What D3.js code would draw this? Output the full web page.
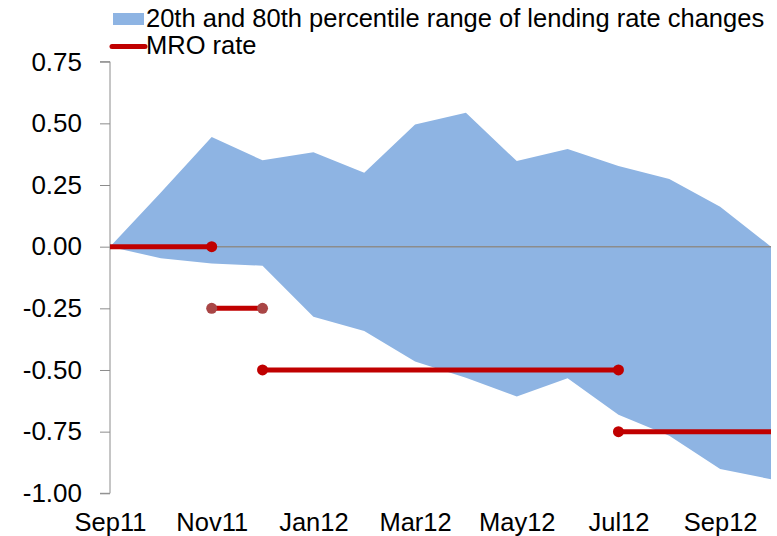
<!DOCTYPE html>
<html>
<head>
<meta charset="utf-8">
<script src="https://cdn.jsdelivr.net/npm/d3@7"></script>
<style>
  html, body { margin: 0; padding: 0; background: #fff; }
  svg { display: block; font-family: "Liberation Sans", Arial, sans-serif; }
</style>
</head>
<body>
<svg id="chart" width="777" height="536"></svg>
<script>
// ---- data ----
const months = ["Sep11","Oct11","Nov11","Dec11","Jan12","Feb12","Mar12","Apr12","May12","Jun12","Jul12","Aug12","Sep12","Oct12"];
const upper80 = [0.00, 0.22, 0.445, 0.35, 0.383, 0.30, 0.495, 0.543, 0.347, 0.396, 0.327, 0.274, 0.162, 0.00];
const lower20 = [0.00, -0.047, -0.068, -0.077, -0.284, -0.342, -0.466, -0.531, -0.608, -0.534, -0.682, -0.767, -0.901, -0.943];
const mroStart = ["Sep11","Nov11","Dec11","Jul12"];
const mroEnd   = ["Nov11","Dec11","Jul12","Oct12"];
const mroValue = [0.00, -0.25, -0.50, -0.75];
const mroStartMarker = [false, true, true, true];
const mroEndMarker   = [true, true, true, false];
const yTicks = [0.75, 0.50, 0.25, 0.00, -0.25, -0.50, -0.75, -1.00];
const xTickLabels = ["Sep11","Nov11","Jan12","Mar12","May12","Jul12","Sep12"];
const legendLabels = ["20th and 80th percentile range of lending rate changes", "MRO rate"];

// ---- chart ----
const svg = d3.select("#chart");
const x = d3.scalePoint().domain(months).range([110, 771]);
const y = d3.scaleLinear().domain([-1, 0.75]).range([493.3, 61.7]);

const areaData = months.map((m, i) => ({ m, hi: upper80[i], lo: lower20[i] }));
const area = d3.area().x(d => x(d.m)).y0(d => y(d.lo)).y1(d => y(d.hi));
svg.append("path").datum(areaData).attr("d", area).attr("fill", "#8EB4E3");

// zero line (category axis)
svg.append("line")
  .attr("x1", x(months[0])).attr("x2", x(months[months.length - 1]))
  .attr("y1", y(0)).attr("y2", y(0))
  .attr("stroke", "#8c8c8c").attr("stroke-width", 1.5);

// y axis
const yAxis = d3.axisLeft(y).tickValues(yTicks).tickFormat(d3.format(".2f")).tickSize(10).tickPadding(18);
const gy = svg.append("g").attr("transform", `translate(${x(months[0])},0)`).call(yAxis);
gy.select(".domain").attr("stroke", "#8c8c8c").attr("d", `M-10,${y(0.75)}H0V${y(-1)}H-10`).attr("fill", "none");
gy.selectAll(".tick line").attr("stroke", "#8c8c8c");
gy.selectAll(".tick text").attr("font-size", 26).attr("fill", "#000")
  .attr("font-family", "Liberation Sans, Arial, sans-serif")
  .text(d => d3.format(".2f")(d).replace("−", "-"));

// x axis labels (placed low)
const xAxis = d3.axisBottom(x).tickValues(xTickLabels).tickSize(0).tickPadding(0);
const gx = svg.append("g").attr("transform", `translate(0,${y(-1)})`).call(xAxis);
gx.select(".domain").remove();
gx.selectAll(".tick text").attr("font-size", 25.5).attr("fill", "#000")
  .attr("font-family", "Liberation Sans, Arial, sans-serif")
  .attr("dy", null).attr("y", 38);

// MRO segments
const mro = mroValue.map((v, i) => ({ s: mroStart[i], e: mroEnd[i], v, sm: mroStartMarker[i], em: mroEndMarker[i], i }));
svg.selectAll(".mro").data(mro).enter().append("line")
  .attr("x1", d => x(d.s)).attr("x2", d => x(d.e))
  .attr("y1", d => y(d.v)).attr("y2", d => y(d.v))
  .attr("stroke", "#C00000").attr("stroke-width", 5);
const dots = [];
mro.forEach(d => {
  if (d.sm) dots.push({ m: d.s, v: d.v, i: d.i });
  if (d.em) dots.push({ m: d.e, v: d.v, i: d.i });
});
svg.selectAll(".dot").data(dots).enter().append("circle")
  .attr("cx", d => x(d.m)).attr("cy", d => y(d.v)).attr("r", 5.5)
  .attr("fill", d => d.i === 1 ? "#A94646" : "#C00000");

// legend
const lg = svg.append("g");
lg.append("rect").attr("x", 113).attr("y", 13).attr("width", 31).attr("height", 12).attr("fill", "#8EB4E3");
lg.append("line").attr("x1", 112).attr("x2", 145).attr("y1", 46.5).attr("y2", 46.5)
  .attr("stroke", "#C00000").attr("stroke-width", 5).attr("stroke-linecap", "round");
lg.append("text").attr("x", 146).attr("y", 27).attr("font-size", 25.5).attr("fill", "#000").text(legendLabels[0]);
lg.append("text").attr("x", 146).attr("y", 54).attr("font-size", 25.5).attr("fill", "#000").text(legendLabels[1]);
</script>
</body>
</html>
